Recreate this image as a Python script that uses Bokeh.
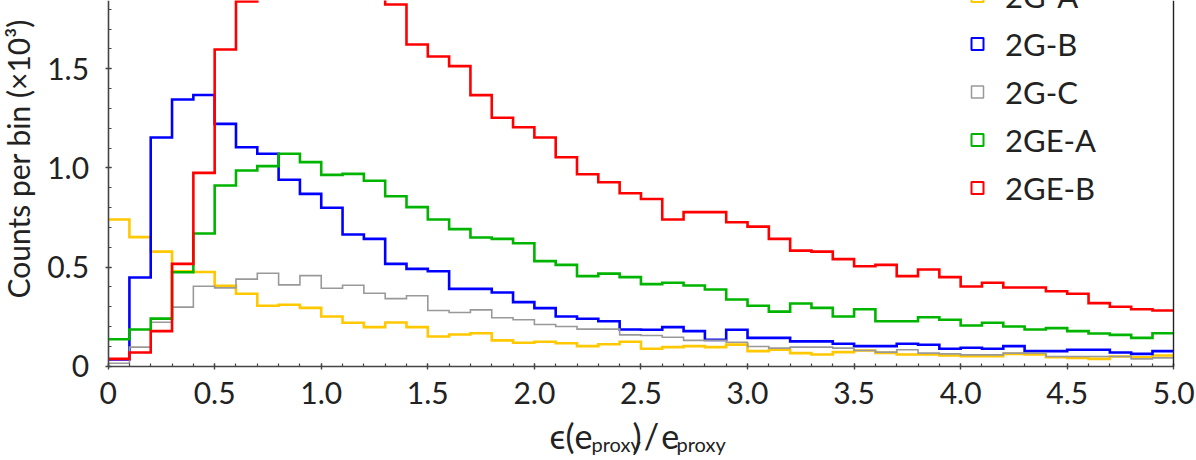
import math
from bokeh.plotting import figure
from bokeh.models import Range1d, FixedTicker, Label, Legend, LegendItem, LinearAxis
from bokeh.embed import file_html
from bokeh.resources import INLINE

FONT = "Lato"

# 50 bins of width 0.1 on [0, 5]
bin_edges = [round(0.1 * i, 1) for i in range(51)]
bin_centers = [round(0.1 * i + 0.05, 2) for i in range(50)]

# counts per bin (x10^3)
g2_a = [0.740, 0.651, 0.578, 0.478, 0.475, 0.405, 0.365, 0.305, 0.310, 0.294,
        0.251, 0.219, 0.197, 0.220, 0.197, 0.150, 0.160, 0.166, 0.130, 0.118,
        0.123, 0.116, 0.101, 0.111, 0.123, 0.088, 0.096, 0.101, 0.096, 0.109,
        0.076, 0.083, 0.066, 0.059, 0.071, 0.079, 0.067, 0.059, 0.059, 0.054,
        0.050, 0.050, 0.062, 0.059, 0.045, 0.042, 0.037, 0.049, 0.045, 0.054]
g2_b = [0.034, 0.447, 1.153, 1.345, 1.368, 1.222, 1.104, 1.071, 0.940, 0.869,
        0.799, 0.664, 0.642, 0.516, 0.491, 0.479, 0.390, 0.390, 0.372, 0.323,
        0.293, 0.251, 0.239, 0.227, 0.185, 0.184, 0.197, 0.177, 0.133, 0.184,
        0.143, 0.143, 0.125, 0.125, 0.113, 0.101, 0.101, 0.113, 0.108, 0.088,
        0.093, 0.088, 0.101, 0.076, 0.076, 0.083, 0.083, 0.069, 0.062, 0.076]
g2_c = [0.015, 0.096, 0.222, 0.298, 0.403, 0.395, 0.439, 0.469, 0.410, 0.457,
        0.393, 0.408, 0.368, 0.341, 0.355, 0.281, 0.271, 0.284, 0.244, 0.234,
        0.210, 0.200, 0.187, 0.187, 0.158, 0.155, 0.146, 0.130, 0.130, 0.121,
        0.099, 0.091, 0.096, 0.096, 0.091, 0.079, 0.071, 0.083, 0.066, 0.062,
        0.057, 0.057, 0.066, 0.066, 0.049, 0.049, 0.049, 0.049, 0.037, 0.042]
g2e_a = [0.136, 0.185, 0.240, 0.474, 0.669, 0.911, 0.987, 1.009, 1.071, 1.029,
         0.965, 0.970, 0.935, 0.857, 0.802, 0.740, 0.691, 0.649, 0.642, 0.620,
         0.530, 0.511, 0.454, 0.467, 0.449, 0.414, 0.421, 0.407, 0.387, 0.336,
         0.305, 0.275, 0.316, 0.294, 0.251, 0.287, 0.227, 0.227, 0.247, 0.234,
         0.205, 0.219, 0.200, 0.185, 0.192, 0.177, 0.165, 0.158, 0.143, 0.166]
g2e_b = [0.037, 0.069, 0.177, 0.516, 0.975, 1.597, 1.840, 1.950, 2.020, 2.050,
         2.030, 1.980, 1.930, 1.824, 1.622, 1.562, 1.513, 1.367, 1.253, 1.205,
         1.153, 1.054, 0.968, 0.928, 0.872, 0.843, 0.740, 0.777, 0.777, 0.726,
         0.704, 0.642, 0.583, 0.578, 0.540, 0.504, 0.511, 0.454, 0.488, 0.449,
         0.402, 0.421, 0.397, 0.397, 0.378, 0.365, 0.318, 0.300, 0.287, 0.281]

series_names = ["2G-A", "2G-B", "2G-C", "2GE-A", "2GE-B"]
series_values = [g2_a, g2_b, g2_c, g2e_a, g2e_b]
series_colors = ["#FFC800", "#0000FF", "#999999", "#00B400", "#FF0000"]
series_widths = [2.6, 2.6, 1.6, 2.6, 2.6]

x_major = [0, 0.5, 1.0, 1.5, 2.0, 2.5, 3.0, 3.5, 4.0, 4.5, 5.0]
x_minor = [round(0.1 * i, 1) for i in range(51)]
x_labels = {0: "0", 0.5: "0.5", 1.0: "1.0", 1.5: "1.5", 2.0: "2.0", 2.5: "2.5",
            3.0: "3.0", 3.5: "3.5", 4.0: "4.0", 4.5: "4.5", 5.0: "5.0"}
y_major = [0, 0.5, 1.0, 1.5, 2.0]
y_minor = [round(0.1 * i, 1) for i in range(21)]
y_labels = {0: "0", 0.5: "0.5", 1.0: "1.0", 1.5: "1.5", 2.0: "2.0"}

W, H = 1196, 460
X0_PX, X_SCALE = 107.6, 213.14     # pixel of x=0, pixels per unit
Y0_PX, Y_SCALE = 365.7, 198.3      # pixel of y=0, pixels per unit
BASE_SHIFT = 0.375                 # alphabetic-baseline correction (em)


def dx(px):
    return (px - X0_PX) / X_SCALE


def dy(py):
    return (Y0_PX - py) / Y_SCALE


p = figure(width=W, height=H, output_backend="svg", toolbar_location=None,
           x_range=Range1d(dx(0), dx(W)), y_range=Range1d(dy(H), dy(0)),
           min_border=0)
p.outline_line_color = None
p.grid.visible = False
p.background_fill_color = "white"

for ax, ticks, minor, labels, bnds in ((p.xaxis[0], x_major, x_minor, x_labels, (0, 5)),
                                       (p.yaxis[0], y_major, y_minor, y_labels, (0, 2.0))):
    ax.fixed_location = 0
    ax.bounds = bnds
    ax.ticker = FixedTicker(ticks=ticks, minor_ticks=minor)
    ax.major_label_overrides = labels
    ax.axis_line_color = "#444444"
    ax.axis_line_width = 1.6
    ax.major_tick_line_color = "#444444"
    ax.minor_tick_line_color = "#444444"
    ax.major_tick_line_width = 1.4
    ax.minor_tick_line_width = 1.2
    ax.major_tick_in = 3
    ax.major_tick_out = 3
    ax.minor_tick_in = 3
    ax.minor_tick_out = 0
    ax.major_label_text_font = FONT
    ax.major_label_text_font_size = "30px"
    ax.major_label_text_color = "#222222"
p.xaxis.major_label_standoff = 13
p.yaxis.major_label_standoff = 16

# right frame border
right_border = LinearAxis(fixed_location=5.0, bounds=(0, 2.0), ticker=FixedTicker(ticks=[]),
                          axis_line_color="#222222", axis_line_width=1.4,
                          major_tick_line_color=None, minor_tick_line_color=None)
p.add_layout(right_border, "right")

legend_items = []
for name, vals, col, lw in zip(series_names, series_values, series_colors, series_widths):
    p.step(x=bin_edges, y=vals + [vals[-1]], mode="after", line_color=col,
           line_width=lw, line_join="miter")
    icon = p.scatter(x=bin_centers, y=vals, marker="square", size=12, fill_alpha=0,
                     line_color=col, line_width=2 if lw > 2 else 1.5, visible=False)
    legend_items.append(LegendItem(label=name, renderers=[icon]))

legend = Legend(items=legend_items, location=(962, H - 208), orientation="vertical",
                background_fill_alpha=0, border_line_color=None, padding=0, margin=0,
                spacing=7, label_height=41, glyph_height=41, glyph_width=30,
                label_standoff=13, label_text_font=FONT, label_text_font_size="31px",
                label_text_color="#222222")
p.add_layout(legend, "center")

# y axis title
p.add_layout(Label(x=dx(29 - BASE_SHIFT * 30), y=dy(298), angle=math.pi / 2,
                   text="Counts per bin (×10³)", text_align="left",
                   text_baseline="alphabetic", text_font=FONT,
                   text_font_size="30px", text_color="#222222"))

# x axis title built from pieces: ϵ(e_proxy)/e_proxy
for txt, px, base, size in (("ϵ(e", 549, 448, 34), ("proxy", 591, 451, 20),
                            (")\u200a/\u200ae", 632, 448, 34), ("proxy", 676, 451, 20)):
    p.add_layout(Label(x=dx(px), y=dy(base - BASE_SHIFT * size), text=txt,
                       text_align="left", text_baseline="alphabetic", text_font=FONT,
                       text_font_size=f"{size}px", text_color="#222222"))

open("out.html", "w").write(file_html(p, INLINE))
